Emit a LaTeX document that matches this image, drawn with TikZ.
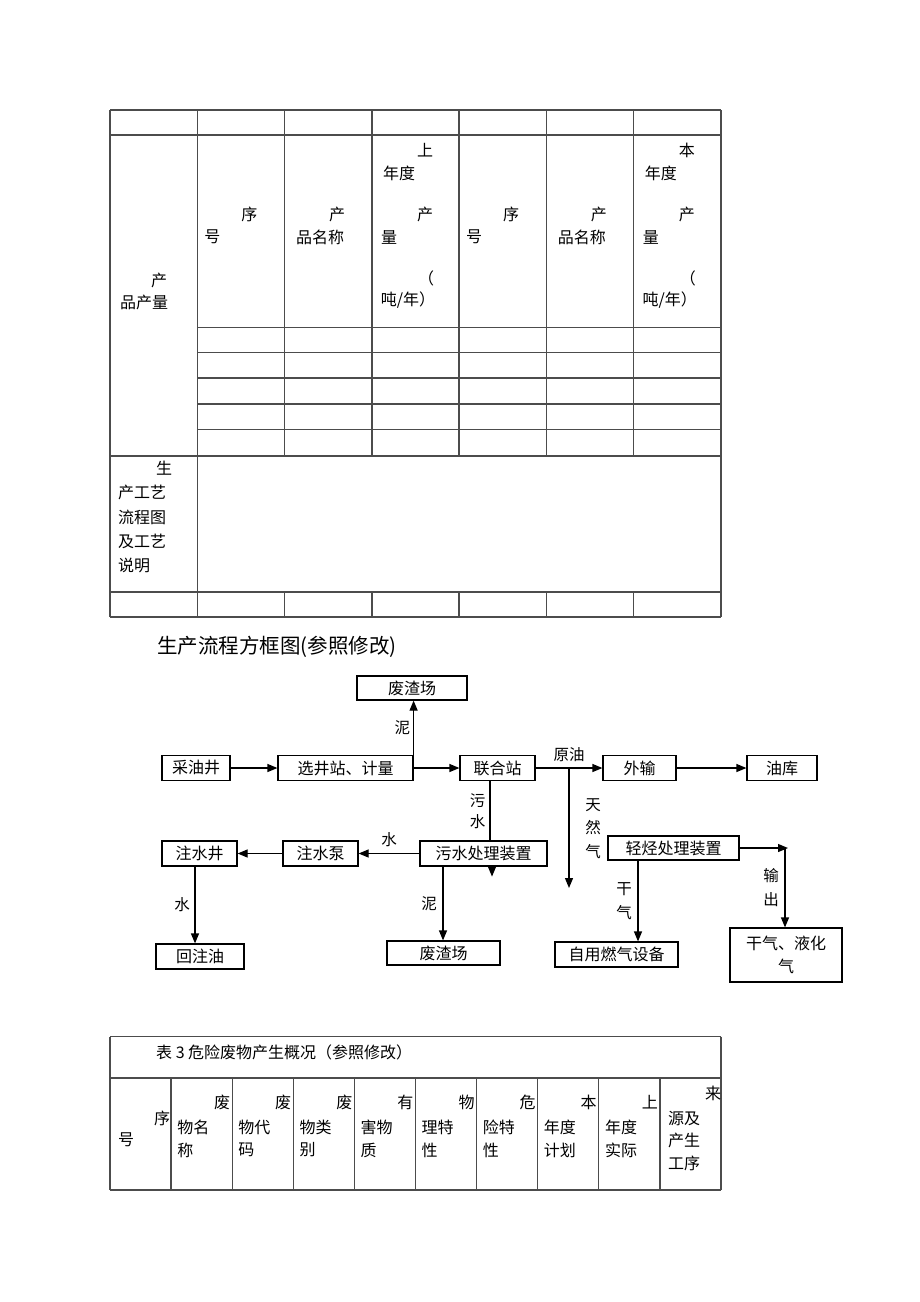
\documentclass[tikz,border=0pt]{standalone}
\usepackage{fontspec}
\setmainfont{Liberation Serif}
\newfontfamily\cjk{Noto Sans CJK SC}
\usetikzlibrary{positioning}
\usetikzlibrary{arrows.meta}

\tikzset{
  blk/.style={draw, line width=1.2pt, minimum height=25pt, inner sep=0pt,
    font=\cjk\fontsize{16}{23}\selectfont},
  lbl/.style={inner sep=0pt, font=\cjk\fontsize{15.5}{23.5}\selectfont},
  cell/.style={inner sep=0pt, font=\cjk\fontsize{16}{19}\selectfont},
  rule/.style={draw=black!70, line width=1.3pt},
  arr/.style={-{Triangle[length=10pt,width=8pt]}, line width=1.2pt},
}

\begin{document}
\begin{tikzpicture}[x=1pt,y=-1pt]
   \useasboundingbox (0,0) rectangle (920,1302);

   % table 1
   \foreach \y in {110,135,456,592,617} \draw[rule] (110,\y) -- (721,\y);
   \foreach \y in {327.5,352.5,378,404,429.5} \draw[rule] (197.3,\y) -- (721,\y);
   \foreach \x in {110,197.3,721} \draw[rule] (\x,110) -- (\x,617);
   \foreach \x in {284.6,371.9,459.1,546.4,633.7} {
     \draw[rule] (\x,110) -- (\x,456);
     \draw[rule] (\x,592) -- (\x,617);
   }
   \node[cell] (cpa) at (159,280) {产};
   \node[cell, anchor=west] (cpb) at (120,302) {品产量};
   \foreach \gx/\tp [count=\g] in {197.3/上,459.1/本} {
     \node[cell] (xu\g) at (\gx+52,214) {序};
     \node[cell] (hao\g) at (\gx+15,237) {号};
     \node[cell] (cp\g) at (\gx+139.7,214) {产};
     \node[cell] (pm\g) at (\gx+122.7,237) {品名称};
     \node[cell] (nd\g) at (\gx+227.7,150) {\tp};
     \node[cell] (nda\g) at (\gx+201.7,173) {年度};
     \node[cell] (cl\g) at (\gx+227.7,214) {产};
     \node[cell] (cla\g) at (\gx+191.7,237) {量};
     \node[cell] (dw\g) at (\gx+228.7,278) {（};
     \node[cell] (dwa\g) at (\gx+210.7,300) {吨/年）};
   }
   \node[cell] (gya) at (164,468) {生};
   \node[cell, anchor=west] (gyb) at (118,492) {产工艺};
   \node[cell, anchor=west] (gyc) at (118,517) {流程图};
   \node[cell, anchor=west] (gyd) at (118,541) {及工艺};
   \node[cell, anchor=west] (gye) at (118,565) {说明};

   % flow chart
   \node[anchor=west, inner sep=0pt, font=\cjk\fontsize{20.5}{24}\selectfont] (ttl)
     at (157,647) {生产流程方框图(参照修改)};

   \node[blk, minimum width=110, minimum height=24] (fzca) at (412,688) {废渣场};
   \node[blk, minimum width=68] (cyj) at (196,768) {采油井};
   \node[blk, minimum width=135] (xjz) at (345.5,768) {选井站、计量};
   \node[blk, minimum width=75] (lhz) at (497.5,768) {联合站};
   \node[blk, minimum width=73] (ws) at (639.5,768) {外输};
   \node[blk, minimum width=70] (yk) at (782,768) {油库};
   \node[blk, minimum width=75] (zsj) at (199.5,853.5) {注水井};
   \node[blk, minimum width=75] (zsb) at (320.5,853.5) {注水泵};
   \node[blk, minimum width=127] (wscl) at (483.5,853.5) {污水处理装置};
   \node[blk, minimum width=131, minimum height=24] (qtcl) at (673.5,848) {轻烃处理装置};
   \node[blk, minimum width=88] (hzy) at (200,956.5) {回注油};
   \node[blk, minimum width=113, minimum height=24] (fzcb) at (443.5,953) {废渣场};
   \node[blk, minimum width=123] (zyrq) at (616.5,954.5) {自用燃气设备};
   \node[blk, minimum width=112, minimum height=54, align=center] (gq) at (786,955) {干气、液化\\气};
   \coordinate (trq) at (569,888);
   \coordinate (sc) at (788,848);

   \draw[arr] (cyj) -- (xjz);
   \draw[arr] (xjz) -- (lhz);
   \draw[arr] (xjz.north east) -- (xjz.north east |- fzca.south)
     node[lbl, midway, left=3pt] {泥};
   \draw[arr] (lhz) -- (ws) node[lbl, midway, above=6pt] {原油};
   \draw[arr] (ws) -- (yk);
   \draw[arr] (trq |- lhz.east) -- (trq);
   \node[lbl, align=center] (trqt) at (593,828.5) {天\\然\\气};
   \draw[line width=1.2pt] ([xshift=-7.5pt]lhz.south) -- ([xshift=-7.5pt]lhz.south |- wscl.north)
     node[lbl, midway, left=4pt, align=center, font=\cjk\fontsize{15.5}{21}\selectfont] {污\\水};
   \draw[arr] ([xshift=8.5pt]wscl.south) -- ++(0,10);
   \draw[arr] (wscl) -- (zsb) node[lbl, midway, above=6pt] {水};
   \draw[arr] (zsb) -- (zsj);
   \draw[arr] ([xshift=-4.5pt]zsj.south) -- ([xshift=-4.5pt]zsj.south |- hzy.north)
     node[lbl, midway, left=4.5pt] {水};
   \draw[arr] ([xshift=-40.5pt]wscl.south) -- ([xshift=-40.5pt]wscl.south |- fzcb.north)
     node[lbl, midway, left=5.5pt] {泥};
   \draw[arr] ([xshift=-35.5pt]qtcl.south) -- ([xshift=-35.5pt]qtcl.south |- zyrq.north)
     node[lbl, midway, left=5.5pt, align=center] {干\\气};
   \draw[arr] (qtcl) -- (sc);
   \draw[arr] ([xshift=-3pt]sc) -- ([xshift=-3pt]sc |- gq.north)
     node[lbl, midway, left=5.5pt, align=center] {输\\出};

   % table 3
   \foreach \y in {1036.5,1078,1190} \draw[rule] (110,\y) -- (721,\y);
   \draw[rule] (110,1036.5) -- (110,1190);
   \draw[rule] (721,1036.5) -- (721,1190);
   \foreach \i in {1,...,9} \draw[rule] (110+61.1*\i,1078) -- (110+61.1*\i,1190);
   \node[cell, anchor=west] (bt) at (156,1052) {表 3 危险废物产生概况（参照修改）};
   \node[cell] (bxu) at (162,1118) {序};
   \node[cell] (bhao) at (126,1140) {号};
   \foreach \t/\m/\b [count=\i] in {废/物名/称, 废/物代/码, 废/物类/别, 有/害物/质,
       物/理特/性, 危/险特/性, 本/年度/计划, 上/年度/实际} {
     \node[cell] (ha\i) at (110+61.1*\i+51,1102) {\t};
     \node[cell, anchor=west] (hb\i) at (110+61.1*\i+6,1127) {\m};
     \node[cell, anchor=west] (hc\i) at (110+61.1*\i+6,1150) {\b};
   }
   \node[cell] (lya) at (713,1093) {来};
   \node[cell, anchor=west] (lyb) at (668,1118) {源及};
   \node[cell, anchor=west] (lyc) at (668,1140) {产生};
   \node[cell, anchor=west] (lyd) at (668,1163) {工序};
\end{tikzpicture}
\end{document}
